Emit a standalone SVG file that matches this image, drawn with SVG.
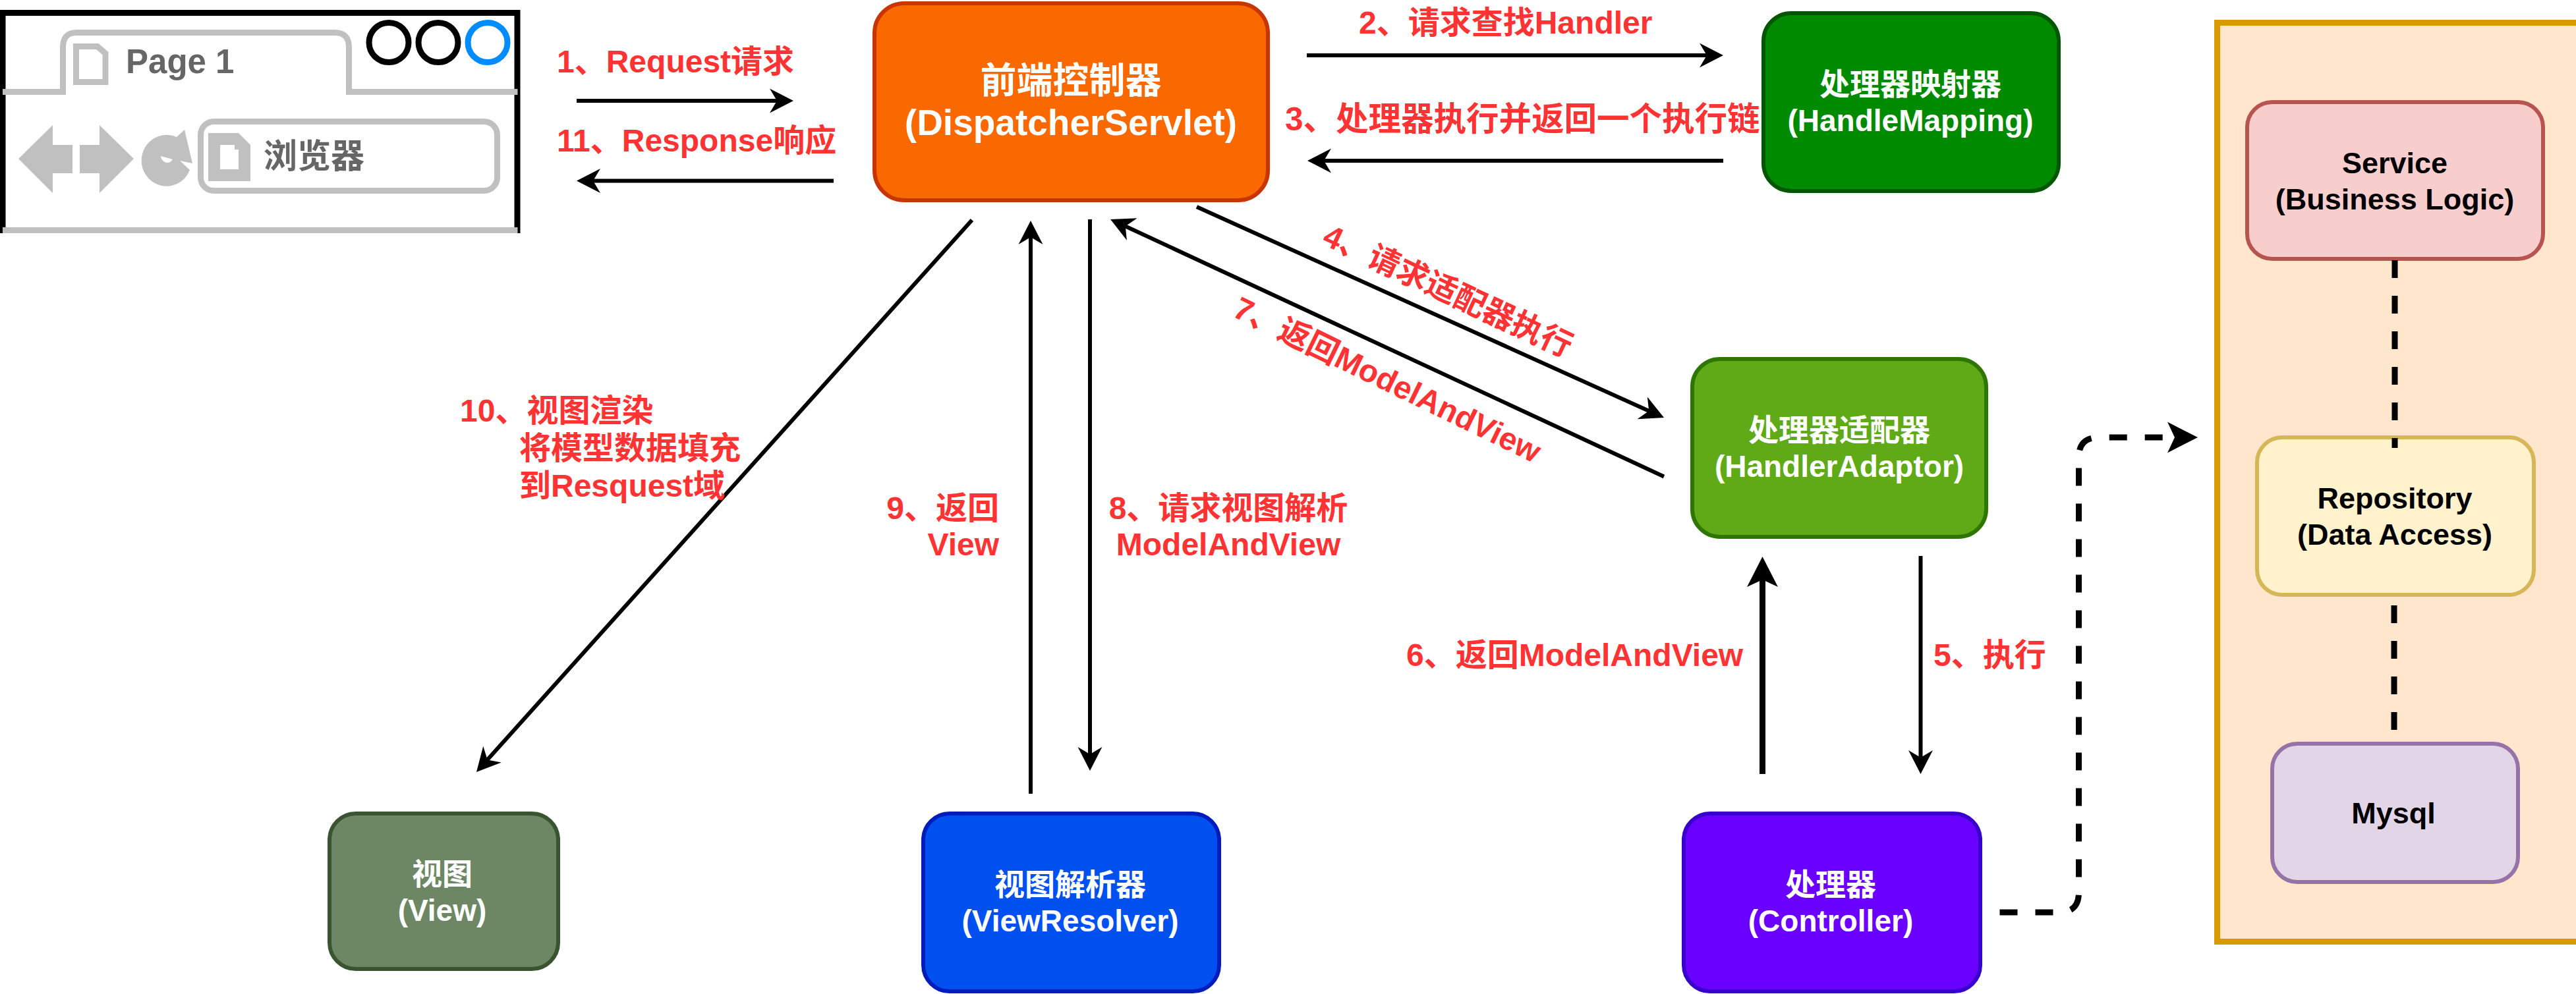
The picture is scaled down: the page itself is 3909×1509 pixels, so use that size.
<svg xmlns="http://www.w3.org/2000/svg" width="3909" height="1509" viewBox="0 0 3909 1509">
<defs>
<style>
text{font-family:"Liberation Sans","Noto Sans CJK SC",sans-serif;font-weight:bold}
.w{fill:#fff;text-anchor:middle;font-size:46px}
.k{fill:#000;text-anchor:middle;font-size:45px}
.r{fill:#FF3333;font-size:48px}
.m{text-anchor:middle}
.e{text-anchor:end}
.g{fill:#666;font-size:51px}
.box{stroke-width:6}
.c{fill:none;stroke:#000;stroke-width:6}
.c2{fill:none;stroke:#000;stroke-width:9;stroke-dasharray:27 27}
.gl{fill:none;stroke:#C0C0C0;stroke-width:9}
</style>
<marker id="a" markerUnits="userSpaceOnUse" markerWidth="44" markerHeight="44" refX="20" refY="22" orient="auto"><path d="M2,3.500 L38,22 L2,40.500 L13,22 Z" fill="#000"/></marker>
<marker id="b" markerUnits="userSpaceOnUse" markerWidth="56" markerHeight="56" refX="26" refY="28" orient="auto"><path d="M2,4.500 L48,28 L2,51.500 L13,28 Z" fill="#000"/></marker>
</defs>
<rect width="3909" height="1509" fill="#fff"/>
<g id="browser">
<path d="M4,354 V19.500 H785 V354" fill="none" stroke="#000" stroke-width="9"/>
<path class="gl" d="M4,139.500 H95.500 V72 Q95.500,49.500 116,49.500 H508 Q529.500,49.500 529.500,72 V139.500 H785.500"/>
<path class="gl" d="M4,349.500 H785.500"/>
<g fill="none" stroke-width="9"><ellipse cx="590" cy="64.500" rx="30" ry="30" stroke="#000"/><ellipse cx="665" cy="64.500" rx="30" ry="30" stroke="#000"/><ellipse cx="740" cy="64.500" rx="30" ry="30" stroke="#008CFF"/></g>
<path d="M115.500,70.500 H148 L160,81 V124.500 H115.500 Z" fill="#fff" stroke="#C0C0C0" stroke-width="9"/>
<text class="g" x="191" y="111">Page 1</text>
<path d="M80,190 V220 H110 V263 H80 V293 L28,241 Z M151,190 L203,241 L151,293 V263 H121 V220 H151 Z" fill="#C0C0C0"/>
<path d="M268,208 A38,39 0 1 0 288,258 L273,244 L292,248 L280,197 Z" fill="#C0C0C0"/>
<path d="M244,237 L262,242 A10,12 0 0 1 244,237 Z" fill="#fff"/>
<rect x="304.500" y="184.500" width="450" height="105" rx="20" fill="#fff" stroke="#C0C0C0" stroke-width="9"/>
<path d="M316,202 H362 L380,220 V275 H316 Z M334,220 V257 H362 V227 H356 V220 Z" fill="#C0C0C0" fill-rule="evenodd"/>
<text class="g" x="400" y="255">浏览器</text>
</g>
<g id="dispatcher"><rect class="box" x="1327" y="5" width="597" height="299" rx="45" fill="#FA6800" stroke="#C73500"/><text class="w" style="font-size:55px" x="1625" y="141">前端控制器</text><text class="w" style="font-size:55px" x="1625" y="205">(DispatcherServlet)</text></g>
<g id="handler-mapping"><rect class="box" x="2676" y="20" width="448" height="270" rx="42" fill="#008A00" stroke="#005700"/><text class="w" x="2899" y="144">处理器映射器</text><text class="w" x="2899" y="199">(HandleMapping)</text></g>
<g id="handler-adaptor"><rect class="box" x="2568" y="545" width="446" height="270" rx="42" fill="#60A917" stroke="#2D7600"/><text class="w" x="2791" y="669">处理器适配器</text><text class="w" x="2791" y="724">(HandlerAdaptor)</text></g>
<g id="controller"><rect class="box" x="2555" y="1235" width="450" height="270" rx="40" fill="#6A00FF" stroke="#3700CC"/><text class="w" x="2778" y="1359">处理器</text><text class="w" x="2778" y="1414">(Controller)</text></g>
<g id="view-resolver"><rect class="box" x="1401" y="1235" width="449" height="270" rx="40" fill="#0050EF" stroke="#001DBC"/><text class="w" x="1624" y="1359">视图解析器</text><text class="w" x="1624" y="1414">(ViewResolver)</text></g>
<g id="view"><rect class="box" x="500" y="1235" width="347" height="236" rx="40" fill="#6D8764" stroke="#3A5431"/><text class="w" x="671" y="1343">视图</text><text class="w" x="671" y="1398">(View)</text></g>
<g id="backend"><rect x="3364.500" y="34.500" width="3540" height="1395" fill="#FFE6CC" stroke="#D79B00" stroke-width="9"/></g>
<g id="service"><rect x="3410" y="155" width="449" height="238" rx="38" fill="#F8CECC" stroke="#B85450" stroke-width="6"/><text class="k" x="3634" y="263">Service</text><text class="k" x="3634" y="318">(Business Logic)</text></g>
<g id="repository"><rect x="3425" y="664" width="420" height="239" rx="38" fill="#FFF2CC" stroke="#D6B656" stroke-width="6"/><text class="k" x="3634" y="772">Repository</text><text class="k" x="3634" y="827">(Data Access)</text></g>
<g id="mysql"><rect x="3448" y="1129" width="373" height="210" rx="38" fill="#E1D5E7" stroke="#9673A6" stroke-width="6"/><text class="k" x="3632" y="1250">Mysql</text></g>
<g id="connectors">
<path class="c" d="M875,153 H1186" marker-end="url(#a)"/>
<path class="c" d="M1265,274.500 H893" marker-end="url(#a)"/>
<path class="c" d="M1983,84 H2597" marker-end="url(#a)"/>
<path class="c" d="M2615,244 H2002" marker-end="url(#a)"/>
<path class="c" d="M1816,314 L2508.600,626.700" marker-end="url(#a)"/>
<path class="c" d="M2525,723.500 L1701.400,340.500" marker-end="url(#a)"/>
<path class="c" d="M1654,333 V1152" marker-end="url(#a)"/>
<path class="c" d="M1564,1205 V353" marker-end="url(#a)"/>
<path class="c" d="M1475,334 L735,1158.600" marker-end="url(#a)"/>
<path class="c" style="stroke-width:9" d="M2674.500,1175 V867" marker-end="url(#b)"/>
<path class="c" d="M2914.500,844 V1157" marker-end="url(#a)"/>
<path class="c2" d="M3034.500,1385 H3125 Q3154.500,1385 3154.500,1355 V694 Q3154.500,664 3185,664 H3313" marker-end="url(#b)"/>
<path class="c2" d="M3634,395 V680"/>
<path class="c2" d="M3633,919 V1109"/>
</g>
<g id="labels">
<text class="r" x="845" y="110">1、Request请求</text>
<text class="r" x="845" y="230">11、Response响应</text>
<text class="r" x="2062" y="51">2、请求查找Handler</text>
<text class="r" style="font-size:49.500px" x="1950" y="198">3、处理器执行并返回一个执行链</text>
<text class="r m" transform="translate(2197,442) rotate(25)" y="16">4、请求适配器执行</text>
<text class="r m" transform="translate(2105,577) rotate(26)" y="16">7、返回ModelAndView</text>
<text class="r" x="698" y="640">10、视图渲染</text>
<text class="r" x="788" y="697">将模型数据填充</text>
<text class="r" x="788" y="754">到Resquest域</text>
<text class="r e" x="1516" y="788">9、返回</text>
<text class="r e" x="1516" y="843">View</text>
<text class="r m" x="1864" y="788">8、请求视图解析</text>
<text class="r m" x="1864" y="843">ModelAndView</text>
<text class="r" x="2134" y="1011">6、返回ModelAndView</text>
<text class="r" x="2934" y="1011">5、执行</text>
</g>
</svg>
